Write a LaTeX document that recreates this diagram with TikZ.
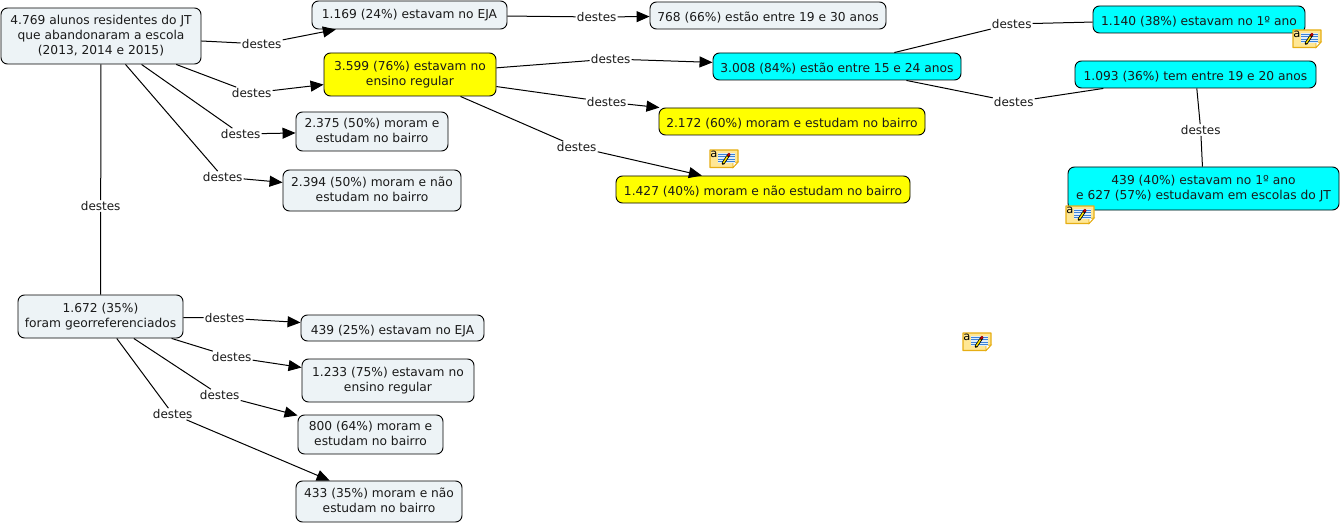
\documentclass[tikz,border=0pt]{standalone}
\usepackage{fontspec}
\setmainfont{DejaVu Sans}
\usetikzlibrary{arrows.meta}
\definecolor{boxgrey}{HTML}{EDF3F6}
\definecolor{inkc}{HTML}{1A1A1A}
\definecolor{notey}{HTML}{FFE795}
\definecolor{noteb}{HTML}{E6AE14}
\definecolor{purecyan}{RGB}{0,255,255}
\definecolor{pureyellow}{RGB}{255,255,0}
\definecolor{noteblue}{RGB}{60,130,215}
\definecolor{notepad}{RGB}{225,238,248}
\tikzset{
  x=1pt,y=-1pt,
  every node/.style={font=\fontsize{12.25}{15}\selectfont,text=inkc},
  concept/.style={draw=black,line width=0.9pt,rounded corners=6.5pt,align=center,inner sep=0pt,fill=boxgrey,
    execute at begin node={\rule{0pt}{15pt}},execute at end node={\rule[-3pt]{0pt}{3pt}}},
  cyanbox/.style={concept,fill=purecyan},
  yellowbox/.style={concept,fill=pureyellow},
  linklabel/.style={inner sep=1pt,fill=white,xshift=0.7pt,yshift=-1pt,font=\fontsize{12}{14}\selectfont},
  plainlink/.style={draw=black,line width=1pt},
  arrowlink/.style={plainlink,-{Triangle[length=13pt,width=11pt]}},
  notebody/.style={draw=noteb,line width=1.1pt,fill=notey,line join=round},
}
\newcommand{\cbox}[7][concept]{% style, name, l, t, r, b, text
  \node[#1,minimum width=#5-#3,minimum height=#6-#4] (#2) at ({(#3+#5)/2},{(#4+#6)/2}) {#7};}
\newcommand{\noteicon}[3]{% name, x, y
  \begin{scope}[shift={(#2,#3)}]
    \path[notebody] (1,1) -- (29,1) -- (29,13) -- (24,18.5) -- (1,18.5) -- cycle;
    \path[draw=noteb,line width=.8pt,fill=white] (29,13) -- (24,13.5) -- (24,18.5) -- cycle;
    \fill[notepad] (9,4) rectangle (26,14);
    \foreach \yy in {5,7.5,10,12.5} \draw[noteblue,line width=.9pt] (9,\yy) -- (26,\yy);
    \draw[black,line width=3pt,line cap=round] (14,14.5) -- (20,5.5);
    \draw[yellow!90!orange,line width=1.4pt] (14.3,14) -- (18.5,7.6);
    \draw[red!75!black,line width=2.2pt] (19,6.8) -- (20.6,4.5);
    \node[inner sep=0pt,font=\fontsize{11.5}{11.5}\selectfont,text=black] (#1) at (4.8,5.2) {a};
  \end{scope}}
\begin{document}
\begin{tikzpicture}
\useasboundingbox (0,0) rectangle (1342,524);
\cbox{root}{1}{8}{201}{64}{4.769 alunos residentes do JT\\que abandonaram a escola\\(2013, 2014 e 2015)}
\cbox{eja}{312}{1}{507}{29}{\raisebox{2pt}{1.169 (24\%) estavam no EJA}}
\cbox[yellowbox]{reg}{324}{53}{496}{96}{3.599 (76\%) estavam no\\ensino regular}
\cbox{aa}{296}{112}{448}{151}{2.375 (50\%) moram e\\estudam no bairro}
\cbox{ab}{283}{170}{461}{211}{2.394 (50\%) moram e não\\estudam no bairro}
\cbox{geo}{18}{295}{183}{338}{1.672 (35\%)\\foram georreferenciados}
\cbox{ga}{301}{315}{484}{341}{439 (25\%) estavam no EJA}
\cbox{gb}{302}{359}{474}{402}{1.233 (75\%) estavam no\\ensino regular}
\cbox{gc}{298}{415}{443}{454}{800 (64\%) moram e\\estudam no bairro}
\cbox{gd}{296}{481}{462}{522}{433 (35\%) moram e não\\estudam no bairro}
\cbox{ejb}{650}{2}{886}{29}{768 (66\%) estão entre 19 e 30 anos}
\cbox[cyanbox]{ca}{713}{53}{961}{80}{3.008 (84\%) estão entre 15 e 24 anos}
\cbox[yellowbox]{ya}{659}{108}{925}{135}{2.172 (60\%) moram e estudam no bairro}
\cbox[yellowbox]{yb}{616}{176}{910}{203}{1.427 (40\%) moram e não estudam no bairro}
\cbox[cyanbox]{cb}{1093}{6}{1305}{33}{1.140 (38\%) estavam no 1º ano}
\cbox[cyanbox]{cc}{1075}{61}{1316}{88}{1.093 (36\%) tem entre 19 e 20 anos}
\cbox[cyanbox]{cd}{1068}{167}{1339}{210}{439 (40\%) estavam no 1º ano\\e 627 (57\%) estudavam em escolas do JT}
\foreach \nm/\px/\py in {la/261/43,lb/251/92,lc/240/133,ld/222/176,le/100/205,lf/596/16,lg/610/58,lh/606/101,li/576/146,lj/1011/23,lk/1013/101,ll/1200/129,lm/224/317,ln/231/356,lo/219/394,lp/172/413}
  \node[linklabel] (\nm) at (\px,\py) {destes};
\foreach \s/\l/\t in {root/la/eja,root/lb/reg,root/lc/aa,root/ld/ab,eja/lf/ejb,reg/lg/ca,reg/lh/ya,reg/li/yb,geo/lm/ga,geo/ln/gb,geo/lo/gc,geo/lp/gd}{
  \draw[plainlink] (\s) -- (\l);
  \draw[arrowlink] (\l) -- (\t);
}
\foreach \s/\l/\t in {root/le/geo,ca/lj/cb,ca/lk/cc,cc/ll/cd}{
  \draw[plainlink] (\s) -- (\l);
  \draw[plainlink] (\l) -- (\t);
}
\noteicon{na}{1292}{29}
\noteicon{nb}{1065}{205}
\noteicon{nc}{709}{149}
\noteicon{nd}{962}{332}
\end{tikzpicture}
\end{document}
